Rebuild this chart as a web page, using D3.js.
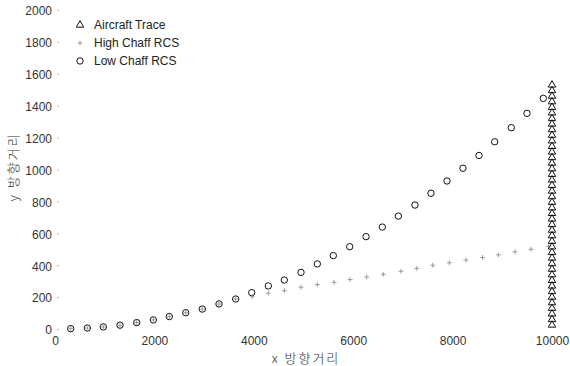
<html>

<head>
    <meta charset="utf-8">
    <script src="https://cdnjs.cloudflare.com/ajax/libs/d3/7.8.5/d3.min.js"></script>
    <style>
        body { margin: 0; background: #fff; }
        text { font-family: "Liberation Sans", Arial, sans-serif; }
    </style>
</head>

<body>
    <script>
        // aircraft trace (x = 10000, climbing)
        var aircraftX = [10000, 10000, 10000, 10000, 10000, 10000, 10000, 10000, 10000, 10000, 10000,
            10000, 10000, 10000, 10000, 10000, 10000, 10000, 10000, 10000, 10000, 10000,
            10000, 10000, 10000, 10000, 10000, 10000, 10000, 10000, 10000, 10000, 10000,
            10000, 10000, 10000, 10000, 10000, 10000, 10000, 10000, 10000, 10000, 10000];
        var aircraftY = [25, 60, 95, 130, 165, 200, 235, 270, 305, 340, 375, 410, 445, 480, 515,
            550, 585, 620, 655, 690, 725, 760, 795, 830, 865, 900, 935, 970, 1005, 1040, 1075,
            1110, 1145, 1180, 1215, 1250, 1285, 1320, 1355, 1390, 1425, 1460, 1495, 1530];

        // low chaff RCS
        var lowX = [316, 650, 972, 1308, 1644, 1978, 2300, 2630, 2964, 3300, 3636, 3958, 4292, 4614,
            4950, 5278, 5600, 5930, 6258, 6586, 6908, 7243, 7565, 7887, 8209, 8531, 8847, 9181, 9497, 9825];
        var lowY = [2, 6, 13, 24, 40, 57, 78, 102, 125, 157, 188, 228, 270, 307,
            355, 408, 460, 516, 579, 639, 708, 777, 851, 928, 1008, 1088, 1174, 1262, 1352, 1446];

        // high chaff RCS
        var highX = [316, 650, 972, 1308, 1644, 1978, 2300, 2630, 2964, 3300, 3636, 3970, 4292, 4614,
            4950, 5278, 5614, 5936, 6272, 6606, 6962, 7278, 7600, 7934, 8270, 8602, 8920, 9256, 9577, 9930];
        var highY = [2, 6, 13, 24, 40, 57, 78, 102, 125, 157, 188, 202, 225, 240,
            262, 278, 293, 310, 326, 343, 362, 380, 400, 415, 432, 448, 465, 484, 500, 518];

        var xTicks = [0, 2000, 4000, 6000, 8000, 10000];
        var yTicks = [0, 200, 400, 600, 800, 1000, 1200, 1400, 1600, 1800, 2000];
        var legendNames = ["Aircraft Trace", "High Chaff RCS", "Low Chaff RCS"];

        var w = 570,
            h = 366;

        var x = d3.scaleLinear().domain([0, 10000]).range([55, 552]);
        var y = d3.scaleLinear().domain([0, 2000]).range([329, 10]);

        var svg = d3.select("body")
            .append("svg")
            .attr("width", w)
            .attr("height", h);

        // y axis: labels only, tiny ticks
        var yAxis = svg.append("g")
            .attr("transform", "translate(57,0)")
            .call(d3.axisLeft(y).tickValues(yTicks).tickSize(-2).tickPadding(5).tickFormat(d3.format("d")));
        yAxis.select(".domain").remove();
        yAxis.selectAll(".tick line").attr("stroke", "#bbb");
        yAxis.selectAll("text").attr("fill", "#333").style("font-size", "12px").attr("dy", "0.4em");

        var xAxis = svg.append("g")
            .attr("transform", "translate(0,333)")
            .call(d3.axisBottom(x).tickValues(xTicks).tickSize(0).tickPadding(3).tickFormat(d3.format("d")));
        xAxis.select(".domain").remove();
        xAxis.selectAll("text").attr("fill", "#333").style("font-size", "12px");

        svg.append("text")
            .attr("x", 306)
            .attr("y", 363)
            .attr("text-anchor", "middle")
            .attr("fill", "#333")
            .style("font-size", "13px")
            .style("letter-spacing", "2px")
            .style("font-family", "'Noto Sans CJK KR', sans-serif")
            .style("font-weight", 300)
            .text("x 방향거리");

        svg.append("text")
            .attr("transform", "translate(18,167) rotate(-90)")
            .attr("text-anchor", "middle")
            .attr("fill", "#333")
            .style("font-size", "13px")
            .style("letter-spacing", "2px")
            .style("font-family", "'Noto Sans CJK KR', sans-serif")
            .style("font-weight", 300)
            .text("y 방향거리");

        var tri = d3.symbol().type(d3.symbolTriangle).size(24);
        function crossPath(s) {
            return "M" + (-s) + ",0H" + s + "M0," + (-s) + "V" + s;
        }

        // low chaff circles
        svg.append("g").selectAll("circle")
            .data(d3.range(lowX.length))
            .enter()
            .append("circle")
            .attr("cx", function (i) { return x(lowX[i]); })
            .attr("cy", function (i) { return y(lowY[i]); })
            .attr("r", 3.2)
            .attr("fill", "none")
            .attr("stroke", "#111")
            .attr("stroke-width", 1);

        // high chaff crosses
        svg.append("g").selectAll("path")
            .data(d3.range(highX.length))
            .enter()
            .append("path")
            .attr("transform", function (i) { return "translate(" + x(highX[i]) + "," + y(highY[i]) + ")"; })
            .attr("d", crossPath(2.5))
            .attr("fill", "none")
            .attr("stroke", "#888")
            .attr("stroke-width", 0.8);

        // aircraft triangles
        svg.append("g").selectAll("path")
            .data(d3.range(aircraftX.length))
            .enter()
            .append("path")
            .attr("transform", function (i) { return "translate(" + x(aircraftX[i]) + "," + y(aircraftY[i]) + ")"; })
            .attr("d", tri)
            .attr("fill", "none")
            .attr("stroke", "#111")
            .attr("stroke-width", 1);

        // legend
        var legend = svg.append("g");
        var rows = legend.selectAll("g")
            .data(legendNames)
            .enter()
            .append("g")
            .attr("transform", function (d, i) { return "translate(80," + (25 + i * 18) + ")"; });

        rows.filter(function (d, i) { return i === 0; })
            .append("path")
            .attr("d", tri)
            .attr("fill", "none")
            .attr("stroke", "#111");
        rows.filter(function (d, i) { return i === 1; })
            .append("path")
            .attr("d", crossPath(2.5))
            .attr("stroke", "#888")
            .attr("stroke-width", 0.8);
        rows.filter(function (d, i) { return i === 2; })
            .append("circle")
            .attr("r", 3.2)
            .attr("fill", "none")
            .attr("stroke", "#111");

        rows.append("text")
            .attr("x", 14)
            .attr("dy", "0.35em")
            .attr("fill", "#222")
            .style("font-size", "12px")
            .text(function (d) { return d; });
    </script>
</body>

</html>
